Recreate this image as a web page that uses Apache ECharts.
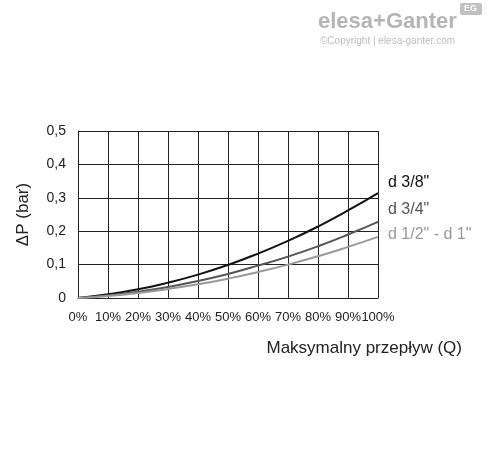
<!DOCTYPE html>
<html>
<head>
<meta charset="utf-8">
<script src="https://cdn.jsdelivr.net/npm/echarts@6/dist/echarts.min.js"></script>
<style>
  body { margin: 0; background: #fff; }
  #chart { width: 488px; height: 454px; }
</style>
</head>
<body>
<div id="chart"></div>
<script>
// przepływ w %
const flow = [0, 10, 20, 30, 40, 50, 60, 70, 80, 90, 100];
// spadek ciśnienia (bar)
const d38 = [0, 0.011, 0.026, 0.046, 0.070, 0.099, 0.133, 0.171, 0.214, 0.262, 0.314];
const d34 = [0, 0.008, 0.019, 0.033, 0.051, 0.072, 0.097, 0.124, 0.155, 0.190, 0.228];
const d121 = [0, 0.006, 0.015, 0.027, 0.041, 0.058, 0.078, 0.100, 0.125, 0.153, 0.183];
const names = ['d 3/8"', 'd 3/4"', 'd 1/2" - d 1"'];

const chart = echarts.init(document.getElementById('chart'));
const font = 'Liberation Sans, Arial, sans-serif';

const mk = (name, vals, color, dy) => ({
  name: name,
  type: 'line',
  data: flow.map((f, i) => [f, vals[i]]),
  symbol: 'none',
  smooth: true,
  lineStyle: { color: color, width: 2 },
  endLabel: { show: true, formatter: name, color: color, fontSize: 16, fontFamily: font, offset: [2, dy] }
});

chart.setOption({
  animation: false,
  grid: { left: 78, right: 110, top: 131, bottom: 156 },
  graphic: [
    { type: 'text', left: 318, top: 11, style: { text: 'elesa+Ganter', fill: '#b5b5b5', font: 'bold 22px ' + font } },
    { type: 'rect', left: 460, top: 3, shape: { width: 22, height: 12, r: 2 }, style: { fill: '#c0c0c0' } },
    { type: 'text', left: 464, top: 4, style: { text: 'EG', fill: '#fff', font: 'bold 9px ' + font } },
    { type: 'text', left: 320, top: 36, style: { text: '©Copyright | elesa-ganter.com', fill: '#bdbdbd', font: '10px ' + font } }
  ],
  xAxis: {
    type: 'value', min: 0, max: 100, interval: 10,
    name: 'Maksymalny przepływ (Q)', nameLocation: 'end',
    nameGap: 0,
    nameTextStyle: { color: '#222', fontSize: 17, fontFamily: font, align: 'right', verticalAlign: 'top', padding: [42, -84, 0, 0] },
    axisLine: { lineStyle: { color: '#222' } },
    axisTick: { show: false },
    axisLabel: { formatter: '{value}%', color: '#222', fontSize: 13, fontFamily: font, margin: 13, interval: 0, showMinLabel: true, showMaxLabel: true, hideOverlap: false },
    splitLine: { lineStyle: { color: '#222', width: 1 } }
  },
  yAxis: {
    type: 'value', min: 0, max: 0.5, interval: 0.1,
    name: 'ΔP (bar)', nameLocation: 'middle', nameGap: 46,
    nameTextStyle: { color: '#222', fontSize: 17, fontFamily: font },
    axisLine: { show: true, lineStyle: { color: '#222' } },
    axisTick: { show: false },
    axisLabel: { formatter: v => v === 0 ? '0' : v.toFixed(1).replace('.', ','), color: '#222', fontSize: 14, fontFamily: font, margin: 12 },
    splitLine: { lineStyle: { color: '#222', width: 1 } }
  },
  series: [mk(names[0], d38, '#111', -11), mk(names[1], d34, '#555', -12), mk(names[2], d121, '#999', -2)]
});
</script>
</body>
</html>
